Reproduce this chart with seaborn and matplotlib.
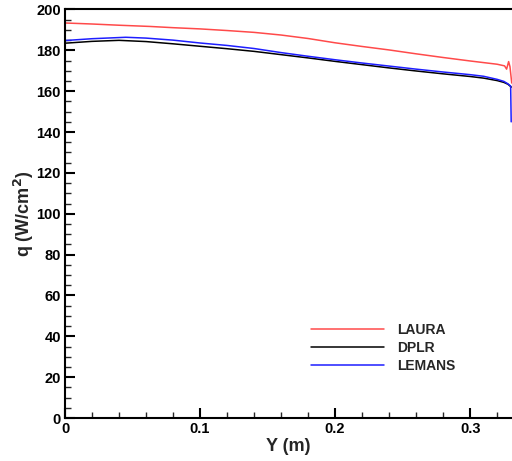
import numpy as np
import pandas as pd
import matplotlib
matplotlib.use("Agg")
import matplotlib.pyplot as plt
from matplotlib.ticker import MultipleLocator
import seaborn as sns

# Surface heating distributions along the span
laura_y = [0.0, 0.02, 0.04, 0.063, 0.08, 0.10, 0.12, 0.14, 0.16, 0.18, 0.20,
           0.22, 0.24, 0.26, 0.28, 0.30, 0.31, 0.32, 0.3255, 0.327, 0.3285,
           0.3295, 0.3308]
laura_q = [193.4, 192.9, 192.3, 191.7, 191.1, 190.5, 189.7, 188.8, 187.5, 185.8,
           183.7, 181.9, 180.2, 178.3, 176.5, 174.8, 174.0, 173.2, 172.4, 170.8,
           174.5, 172.0, 164.0]

dplr_y = [0.0, 0.02, 0.04, 0.06, 0.08, 0.10, 0.12, 0.14, 0.16, 0.18, 0.20,
          0.22, 0.24, 0.26, 0.28, 0.30, 0.31, 0.32, 0.325, 0.328, 0.3305]
dplr_q = [183.5, 184.4, 184.9, 184.3, 183.2, 182.0, 180.8, 179.5, 177.9, 176.3,
          174.6, 173.0, 171.4, 169.9, 168.5, 167.2, 166.4, 165.2, 164.3, 163.4,
          162.0]

lemans_y = [0.0, 0.02, 0.045, 0.06, 0.08, 0.10, 0.12, 0.14, 0.16, 0.18, 0.20,
            0.22, 0.24, 0.26, 0.28, 0.30, 0.31, 0.32, 0.325, 0.328, 0.3300,
            0.3304]
lemans_q = [184.8, 185.7, 186.4, 186.0, 185.0, 183.6, 182.4, 180.9, 178.9, 177.1,
            175.4, 173.8, 172.3, 170.8, 169.4, 168.1, 167.3, 165.8, 164.8, 163.6,
            162.5, 145.0]

series_names = ["LAURA", "DPLR", "LEMANS"]
series_colors = ["#ff4a4a", "#000000", "#1e1eff"]

x_ticks = [0, 0.1, 0.2, 0.3]
x_tick_labels = ["0", "0.1", "0.2", "0.3"]
y_ticks = [0, 20, 40, 60, 80, 100, 120, 140, 160, 180, 200]

frames = []
for name, ys, qs in zip(series_names, [laura_y, dplr_y, lemans_y],
                        [laura_q, dplr_q, lemans_q]):
    frames.append(pd.DataFrame({"Y": ys, "q": qs, "case": name}))
df = pd.concat(frames, ignore_index=True)

sns.set_style("ticks")
plt.rcParams["font.family"] = ["Liberation Sans", "DejaVu Sans"]
plt.rcParams["font.weight"] = "bold"

fig = plt.figure(figsize=(5.12, 4.61), dpi=100)
ax = fig.add_axes([65 / 512, 1 - 418 / 461, 447 / 512, 408.5 / 461])

sns.lineplot(data=df, x="Y", y="q", hue="case", hue_order=series_names,
             palette=series_colors, sort=False, estimator=None,
             linewidth=1.1, ax=ax)

ax.set_xlim(0, 0.331)
ax.set_ylim(0, 200)
ax.set_xticks(x_ticks)
ax.set_xticklabels(x_tick_labels)
ax.set_yticks(y_ticks)
ax.xaxis.set_minor_locator(MultipleLocator(0.02))
ax.yaxis.set_minor_locator(MultipleLocator(5))

ax.tick_params(which="major", direction="in", length=7, width=1.5,
               labelsize=10.5, pad=3, colors="black")
ax.tick_params(which="minor", direction="in", length=4.5, width=1.0)
for lab in ax.get_xticklabels() + ax.get_yticklabels():
    lab.set_fontweight("bold")

for side in ["left", "bottom", "top"]:
    ax.spines[side].set_linewidth(1.5)
    ax.spines[side].set_color("black")
ax.spines["right"].set_visible(False)

ax.set_xlabel("Y (m)", fontsize=13, fontweight="bold", labelpad=1)
ax.set_ylabel("q (W/cm$^{\\mathbf{2}}$)", fontsize=13, fontweight="bold", labelpad=0)

leg = ax.legend(loc="upper left", bbox_to_anchor=(0.534, 0.25), frameon=False,
                handlelength=5.25, handletextpad=1.0, labelspacing=0.3,
                borderpad=0, prop={"weight": "bold", "size": 10})
for line in leg.get_lines():
    line.set_linewidth(1.1)

fig.savefig("out.png", dpi=100)
